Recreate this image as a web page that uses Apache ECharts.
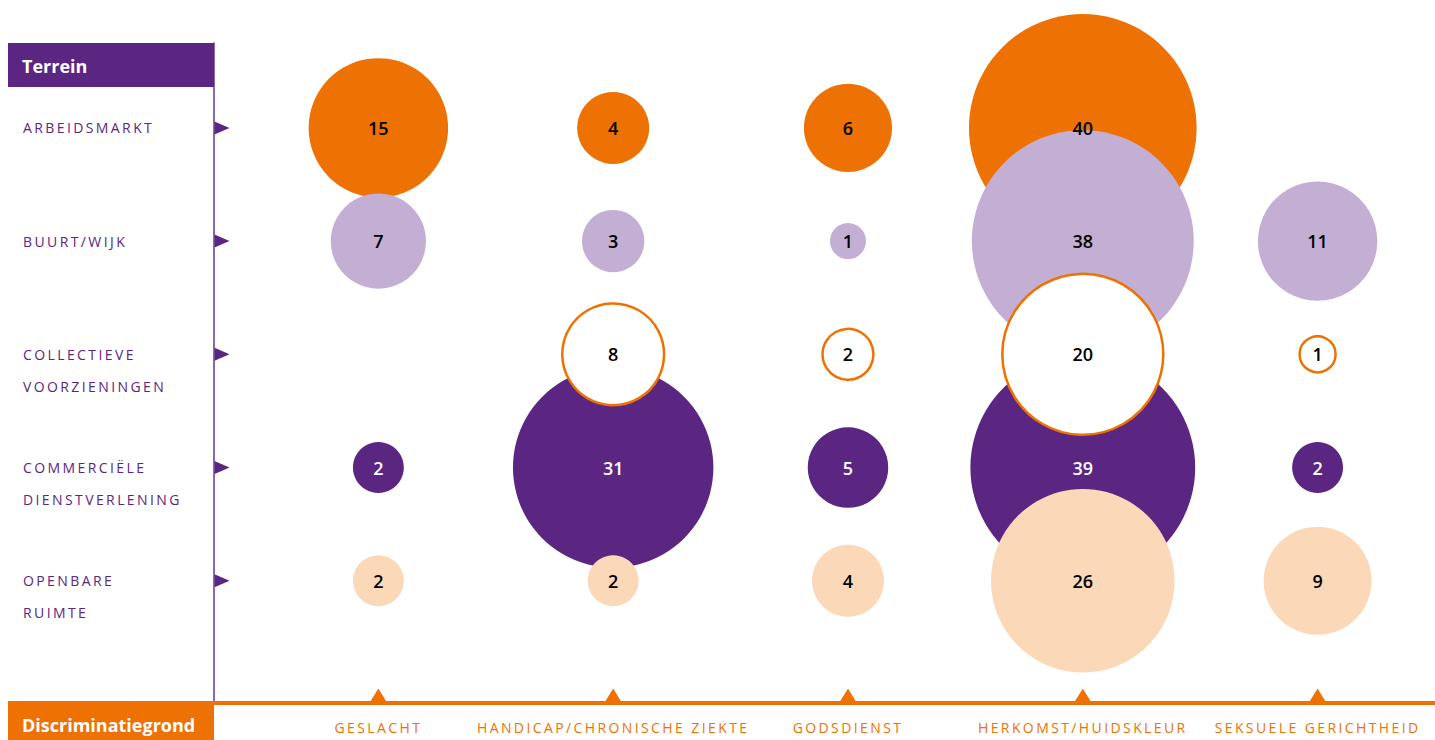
<!DOCTYPE html>
<html>
<head>
<meta charset="utf-8">
<script src="https://cdn.jsdelivr.net/npm/echarts@6/dist/echarts.min.js"></script>
<style>
  html, body { margin: 0; padding: 0; background: #fff; }
  #chart { width: 1435px; height: 740px; }
  /* spaced capitals for the axis labels (svg renderer) */
  #chart text[fill="#5b2582"], #chart text[fill="#ee7203"] { letter-spacing: 2.4px; }
</style>
</head>
<body>
<div id="chart"></div>
<script>
const grounds = ['GESLACHT', 'HANDICAP/CHRONISCHE ZIEKTE', 'GODSDIENST', 'HERKOMST/HUIDSKLEUR', 'SEKSUELE GERICHTHEID'];
const terreinen = [
  ['ARBEIDSMARKT'],
  ['BUURT/WIJK'],
  ['COLLECTIEVE', 'VOORZIENINGEN'],
  ['COMMERCIËLE', 'DIENSTVERLENING'],
  ['OPENBARE', 'RUIMTE'],
];

// values per terrein, in order of grounds (null = no bubble)
const arbeidsmarkt = [15, 4, 6, 40, null];
const buurtWijk = [7, 3, 1, 38, 11];
const collectieve = [null, 8, 2, 20, 1];
const commercieel = [2, 31, 5, 39, 2];
const openbare = [2, 2, 4, 26, 9];

const ORANGE = '#ee7203';
const PURPLE = '#5b2582';
const LILAC = '#c4afd4';
const PEACH = '#fbd9b8';

const X_MIN = -0.7, X_MAX = 4.5;
const Y_MIN = -0.75, Y_MAX = 5.08;

const bubbleSeries = (name, row, values, color, textColor, extra) => Object.assign({
  name: name,
  type: 'scatter',
  clip: false,
  data: values.map((v, i) => [i, row, v]).filter(d => d[2] != null),
  symbolSize: (val) => 36 * Math.sqrt(val[2]),
  itemStyle: { color: color, opacity: 1 },
  label: {
    show: true,
    position: 'inside',
    formatter: (p) => p.value[2],
    color: textColor,
    fontFamily: 'Open Sans',
    fontSize: 18,
    fontWeight: 600,
  },
  emphasis: { disabled: true },
}, extra || {});

const chart = echarts.init(document.getElementById('chart'), null, { renderer: 'svg' });

chart.setOption({
  animation: false,
  grid: { left: 214, right: 0, top: 43, bottom: 37, outerBoundsMode: 'none' },
  xAxis: {
    type: 'value',
    min: X_MIN,
    max: X_MAX,
    splitLine: { show: false },
    axisTick: { show: false },
    axisLine: { show: true, onZero: false, lineStyle: { color: ORANGE, width: 4 } },
    axisLabel: {
      customValues: [0, 1, 2, 3, 4],
      formatter: (v) => grounds[Math.round(v)],
      color: ORANGE,
      fontFamily: 'Open Sans',
      fontSize: 14,
      margin: 24,
      verticalAlign: 'middle',
    },
    z: 5,
  },
  yAxis: {
    type: 'value',
    inverse: true,
    min: Y_MIN,
    max: Y_MAX,
    splitLine: { show: false },
    axisTick: { show: false },
    axisLine: { show: true, onZero: false, lineStyle: { color: '#6a3591', width: 1.5 } },
    axisLabel: {
      customValues: [0, 1, 2, 3, 4],
      formatter: (v) => {
        const lines = terreinen[Math.round(v)];
        return '\n' + lines[0] + '\n' + (lines[1] || '');
      },
      color: PURPLE,
      fontFamily: 'Open Sans',
      fontSize: 14,
      lineHeight: 32,
      align: 'left',
      margin: 191,
      padding: [4, 0, 0, 0],
    },
  },
  graphic: [
    { type: 'rect', x: 8, y: 43, shape: { width: 206, height: 44 }, style: { fill: PURPLE }, z: 10 },
    { type: 'text', x: 22, y: 66, style: { text: 'Terrein', fill: '#fff', font: 'bold 18px "Open Sans"', verticalAlign: 'middle' }, z: 11 },
    { type: 'rect', x: 8, y: 701, shape: { width: 206, height: 39 }, style: { fill: ORANGE }, z: 10 },
    { type: 'text', x: 22, y: 725, style: { text: 'Discriminatiegrond', fill: '#fff', font: 'bold 18px "Open Sans"', verticalAlign: 'middle' }, z: 11 },
  ],
  series: [
    bubbleSeries('Arbeidsmarkt', 0, arbeidsmarkt, ORANGE, '#000'),
    bubbleSeries('Buurt/wijk', 1, buurtWijk, LILAC, '#000'),
    bubbleSeries('Commerciële dienstverlening', 3, commercieel, PURPLE, '#fff'),
    bubbleSeries('Collectieve voorzieningen', 2, collectieve, '#fff', '#000', {
      itemStyle: { color: '#fff', borderColor: ORANGE, borderWidth: 2.5, opacity: 1 },
      z: 3,
    }),
    bubbleSeries('Openbare ruimte', 4, openbare, PEACH, '#000'),
    {
      type: 'scatter',
      clip: false,
      silent: true,
      data: terreinen.map((t, i) => [X_MIN, i]),
      symbol: 'triangle',
      symbolSize: [13, 15],
      symbolRotate: -90,
      symbolOffset: [8, 0],
      itemStyle: { color: PURPLE, opacity: 1 },
      z: 4,
    },
    {
      type: 'scatter',
      clip: false,
      silent: true,
      data: grounds.map((g, i) => [i, Y_MAX]),
      symbol: 'triangle',
      symbolSize: [16, 13],
      symbolOffset: [0, -8],
      itemStyle: { color: ORANGE, opacity: 1 },
      z: 4,
    },
  ],
});
</script>
</body>
</html>
